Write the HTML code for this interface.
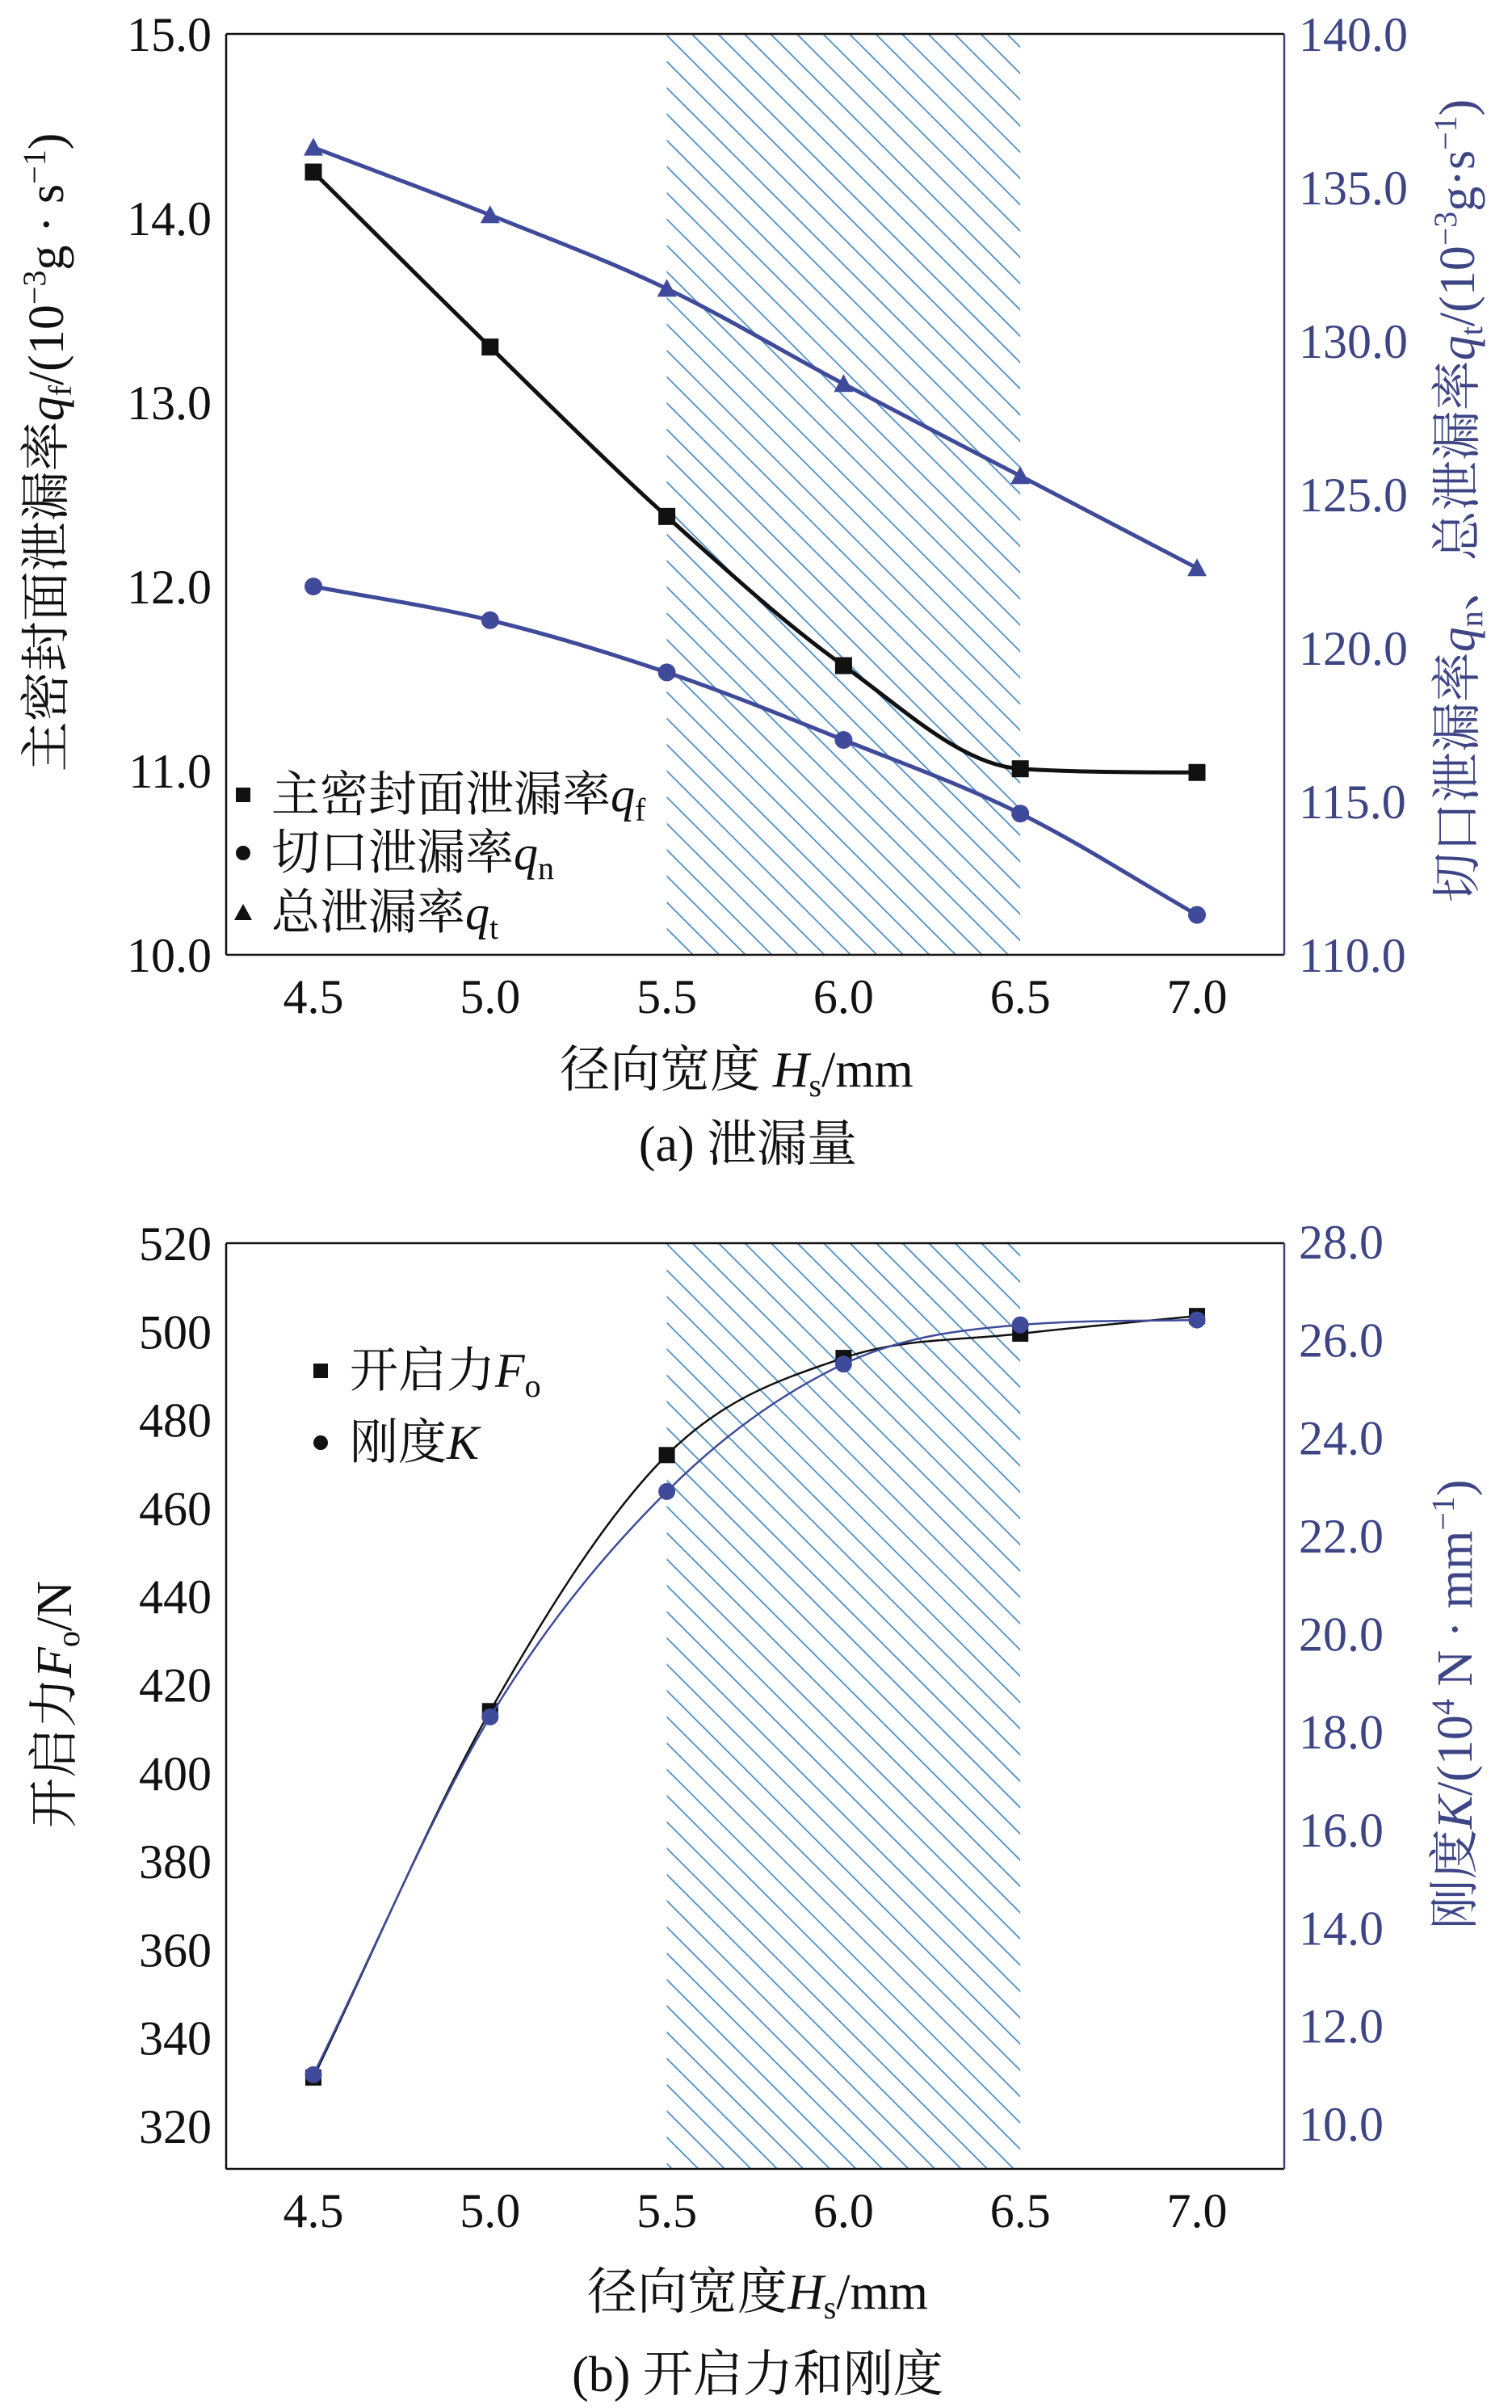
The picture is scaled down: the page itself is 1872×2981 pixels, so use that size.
<!DOCTYPE html>
<html><head><meta charset="utf-8"><style>
html,body{margin:0;padding:0;background:#fff;}
svg{display:block;font-family:"Liberation Serif","Noto Serif CJK SC","Noto Sans CJK SC",serif;}
</style></head><body>
<svg id="fig" width="1872" height="2981" viewBox="0 0 1872 2981" xmlns="http://www.w3.org/2000/svg">
<defs>
<pattern id="hatch" patternUnits="userSpaceOnUse" width="23" height="23" patternTransform="rotate(-45)">
<line x1="0" y1="0" x2="0" y2="23" stroke="#4a8cc4" stroke-width="3.5"/>
</pattern>
</defs>
<g id="chartA"></g>
<g id="chartB"></g>
</svg>
<script>
const xCats = [4.5, 5.0, 5.5, 6.0, 6.5, 7.0];
const xTickLabels = ["4.5","5.0","5.5","6.0","6.5","7.0"];
const hatchRange = [5.5, 6.5];
// chart A
const qfValues = [14.25, 13.3, 12.38, 11.57, 11.01, 10.99];
const qnValues = [122.0, 120.9, 119.2, 117.0, 114.6, 111.3];
const qtValues = [136.3, 134.1, 131.7, 128.6, 125.6, 122.6];
const aLeftTicks = [10, 11, 12, 13, 14, 15];
const aRightTicks = [110, 115, 120, 125, 130, 135, 140];
// chart B
const foValues = [331, 414, 472, 494, 499.5, 503.5];
const kValues = [11.0, 18.3, 22.9, 25.5, 26.3, 26.4];
const bLeftTicks = [320, 340, 360, 380, 400, 420, 440, 460, 480, 500, 520];
const bRightTicks = [10, 12, 14, 16, 18, 20, 22, 24, 26, 28];

const NS = "http://www.w3.org/2000/svg";
const BLACK = "#111", BLUE = "#3f4b9a", AXB = "#3d4585";
function mk(parent, tag, attrs, text){
  const e = document.createElementNS(NS, tag);
  for (const k in attrs) e.setAttribute(k, attrs[k]);
  if (text !== undefined) e.textContent = text;
  parent.appendChild(e); return e;
}
function xScale(v){ return 388 + (v - 4.5) / 0.5 * 218.8; }
function lin(d0, d1, r0, r1){ return v => r0 + (v - d0) / (d1 - d0) * (r1 - r0); }
function spline(pts){
  // monotone cubic (Fritsch-Carlson)
  const n = pts.length, dx=[], s=[], m=[];
  for (let i=0;i<n-1;i++){ dx[i]=pts[i+1][0]-pts[i][0]; s[i]=(pts[i+1][1]-pts[i][1])/dx[i]; }
  m[0]=s[0]; m[n-1]=s[n-2];
  for (let i=1;i<n-1;i++){ m[i] = (s[i-1]*s[i]<=0)?0:(s[i-1]+s[i])/2; }
  for (let i=0;i<n-1;i++){
    if (s[i]===0){ m[i]=0; m[i+1]=0; continue; }
    const a=m[i]/s[i], b=m[i+1]/s[i], h=a*a+b*b;
    if (h>9){ const t=3/Math.sqrt(h); m[i]=t*a*s[i]; m[i+1]=t*b*s[i]; }
  }
  let d = "M" + pts[0][0] + "," + pts[0][1];
  for (let i=0;i<n-1;i++){
    const h=dx[i];
    d += " C"+(pts[i][0]+h/3)+","+(pts[i][1]+m[i]*h/3)+" "+(pts[i+1][0]-h/3)+","+(pts[i+1][1]-m[i+1]*h/3)+" "+pts[i+1][0]+","+pts[i+1][1];
  }
  return d;
}
function marker(g, type, x, y, color, size){
  let e;
  if (type === "square") e = mk(g, "rect", {x:x-size/2, y:y-size/2, width:size, height:size, fill:color});
  else if (type === "circle") e = mk(g, "circle", {cx:x, cy:y, r:size/2, fill:color});
  else e = mk(g, "polygon", {points:(x)+","+(y-size/2-2)+" "+(x-size/2-2)+","+(y+size/2)+" "+(x+size/2+2)+","+(y+size/2), fill:color});
  return e;
}
function frame(g, L, R, T, B){
  const hx0 = xScale(hatchRange[0]), hx1 = xScale(hatchRange[1]);
  const h = mk(g, "rect", {x:hx0, y:T, width:hx1-hx0, height:B-T, fill:"url(#hatch)"});
  
  
  const top = mk(g, "line", {x1:L, y1:T, x2:R, y2:T, stroke:BLACK, "stroke-width":2.5});
  
  
  const bot = mk(g, "line", {x1:L, y1:B, x2:R, y2:B, stroke:BLACK, "stroke-width":2.5});
  
  
  const le = mk(g, "line", {x1:L, y1:T, x2:L, y2:B, stroke:BLACK, "stroke-width":2.5});
  
  
  const ri = mk(g, "line", {x1:R, y1:T, x2:R, y2:B, stroke:AXB, "stroke-width":2.5});
  
  
}
function xTicks(g, B, ty){
  xCats.forEach((v,i)=>{
    const t = mk(g, "text", {x:xScale(v), y:ty, "font-size":60, "text-anchor":"middle", fill:BLACK}, xTickLabels[i]);
    
    
  });
}
function yTicks(g, ticks, sc, x, anchor, color, fmt){
  ticks.forEach(v=>{
    const t = mk(g, "text", {x:x, y:sc(v)+21, "font-size":60, "text-anchor":anchor, fill:color}, fmt(v));
    
    
  });
}
function series(g, vals, sc, color, type, name, lw, size){
  const pts = xCats.map((x,i)=>[xScale(x), sc(vals[i])]);
  const p = mk(g, "path", {d:spline(pts), fill:"none", stroke:color, "stroke-width":lw});
  
  
  pts.forEach(q=>{
    const m = marker(g, type, q[0], q[1], color, size);
    
    
  });
}

// ---------- Chart A ----------
(function(){
  const g = document.getElementById("chartA");
  const L=280, R=1590, T=42, B=1182;
  const yL = lin(10, 15, B, T), yR = lin(110, 140, B, T);
  frame(g, L, R, T, B);
  series(g, qtValues, yR, BLUE, "triangle", "qt", 5, 20);
  series(g, qnValues, yR, BLUE, "circle", "qn", 5, 22);
  series(g, qfValues, yL, BLACK, "square", "qf", 5, 21);
  yTicks(g, aLeftTicks, yL, 262, "end", BLACK, v=>v.toFixed(1));
  yTicks(g, aRightTicks, yR, 1608, "start", AXB, v=>v.toFixed(1));
  xTicks(g, B, 1254);
  const leg = [["square","主密封面泄漏率","q","f"],["circle","切口泄漏率","q","n"],["triangle","总泄漏率","q","t"]];
  const ly = [984, 1056, 1130];
  leg.forEach((l,i)=>{
    const lg = mk(g, "g", {});
    
    
    marker(lg, l[0], 301, ly[i], BLACK, 18);
    const t = mk(lg, "text", {x:336, y:ly[i]+20, "font-size":60, fill:BLACK});
    t.innerHTML = l[1] + '<tspan font-style="italic">' + l[2] + '</tspan><tspan font-size="40" dy="12">' + l[3] + '</tspan>';
  });
  const yt = mk(g, "text", {transform:"translate(78,560) rotate(-90)", "font-size":62, "text-anchor":"middle", fill:BLACK});
  yt.innerHTML = '主密封面泄漏率<tspan font-style="italic">q</tspan><tspan font-size="40" dy="10">f</tspan><tspan dy="-10">/(10</tspan><tspan font-size="40" dy="-22">−3</tspan><tspan dy="22">g · s</tspan><tspan font-size="40" dy="-22">−1</tspan><tspan dy="22">)</tspan>';
  
  
  const rt = mk(g, "text", {transform:"translate(1825,620) rotate(-90)", "font-size":62, "text-anchor":"middle", fill:AXB});
  rt.innerHTML = '切口泄漏率<tspan font-style="italic">q</tspan><tspan font-size="40" dy="10">n</tspan><tspan dy="-10">、总泄漏率</tspan><tspan font-style="italic">q</tspan><tspan font-size="40" dy="10">t</tspan><tspan dy="-10">/(10</tspan><tspan font-size="40" dy="-22">−3</tspan><tspan dy="22">g·s</tspan><tspan font-size="40" dy="-22">−1</tspan><tspan dy="22">)</tspan>';
  
  
  const xt = mk(g, "text", {x:912, y:1345, "font-size":62, "text-anchor":"middle", fill:BLACK});
  xt.innerHTML = '径向宽度 <tspan font-style="italic">H</tspan><tspan font-size="40" dy="12">s</tspan><tspan dy="-12">/mm</tspan>';
  
  
  const cap = mk(g, "text", {x:926, y:1437, "font-size":62, "text-anchor":"middle", fill:BLACK}, "(a) 泄漏量");
  
  
})();

// ---------- Chart B ----------
(function(){
  const g = document.getElementById("chartB");
  const L=280, R=1590, T=1539, B=2685;
  const yL = lin(320, 520, 2632, 1539), yR = lin(10, 28, 2629, 1537);
  frame(g, L, R, T, B);
  series(g, foValues, yL, BLACK, "square", "fo", 2.5, 20);
  series(g, kValues, yR, BLUE, "circle", "k", 2.5, 21);
  yTicks(g, bLeftTicks, yL, 262, "end", BLACK, v=>String(v));
  yTicks(g, bRightTicks, yR, 1608, "start", AXB, v=>v.toFixed(1));
  xTicks(g, B, 2757);
  const leg = [["square","开启力","F","o"],["circle","刚度","K",""]];
  const ly = [1697, 1786];
  leg.forEach((l,i)=>{
    const lg = mk(g, "g", {});
    
    
    marker(lg, l[0], 397, ly[i], BLACK, 18);
    const t = mk(lg, "text", {x:433, y:ly[i]+20, "font-size":60, fill:BLACK});
    t.innerHTML = l[1] + '<tspan font-style="italic">' + l[2] + '</tspan><tspan font-size="40" dy="12">' + l[3] + '</tspan>';
  });
  const yt = mk(g, "text", {transform:"translate(88,2110) rotate(-90)", "font-size":62, "text-anchor":"middle", fill:BLACK});
  yt.innerHTML = '开启力<tspan font-style="italic">F</tspan><tspan font-size="40" dy="10">o</tspan><tspan dy="-10">/N</tspan>';
  
  
  const rt = mk(g, "text", {transform:"translate(1822,2110) rotate(-90)", "font-size":62, "text-anchor":"middle", fill:AXB});
  rt.innerHTML = '刚度<tspan font-style="italic">K</tspan>/(10<tspan font-size="40" dy="-22">4</tspan><tspan dy="22"> N · mm</tspan><tspan font-size="40" dy="-22">−1</tspan><tspan dy="22">)</tspan>';
  
  
  const xt = mk(g, "text", {x:938, y:2858, "font-size":62, "text-anchor":"middle", fill:BLACK});
  xt.innerHTML = '径向宽度<tspan font-style="italic">H</tspan><tspan font-size="40" dy="12">s</tspan><tspan dy="-12">/mm</tspan>';
  
  
  const cap = mk(g, "text", {x:938, y:2960, "font-size":62, "text-anchor":"middle", fill:BLACK}, "(b) 开启力和刚度");
  
  
})();
</script>
</body></html>
